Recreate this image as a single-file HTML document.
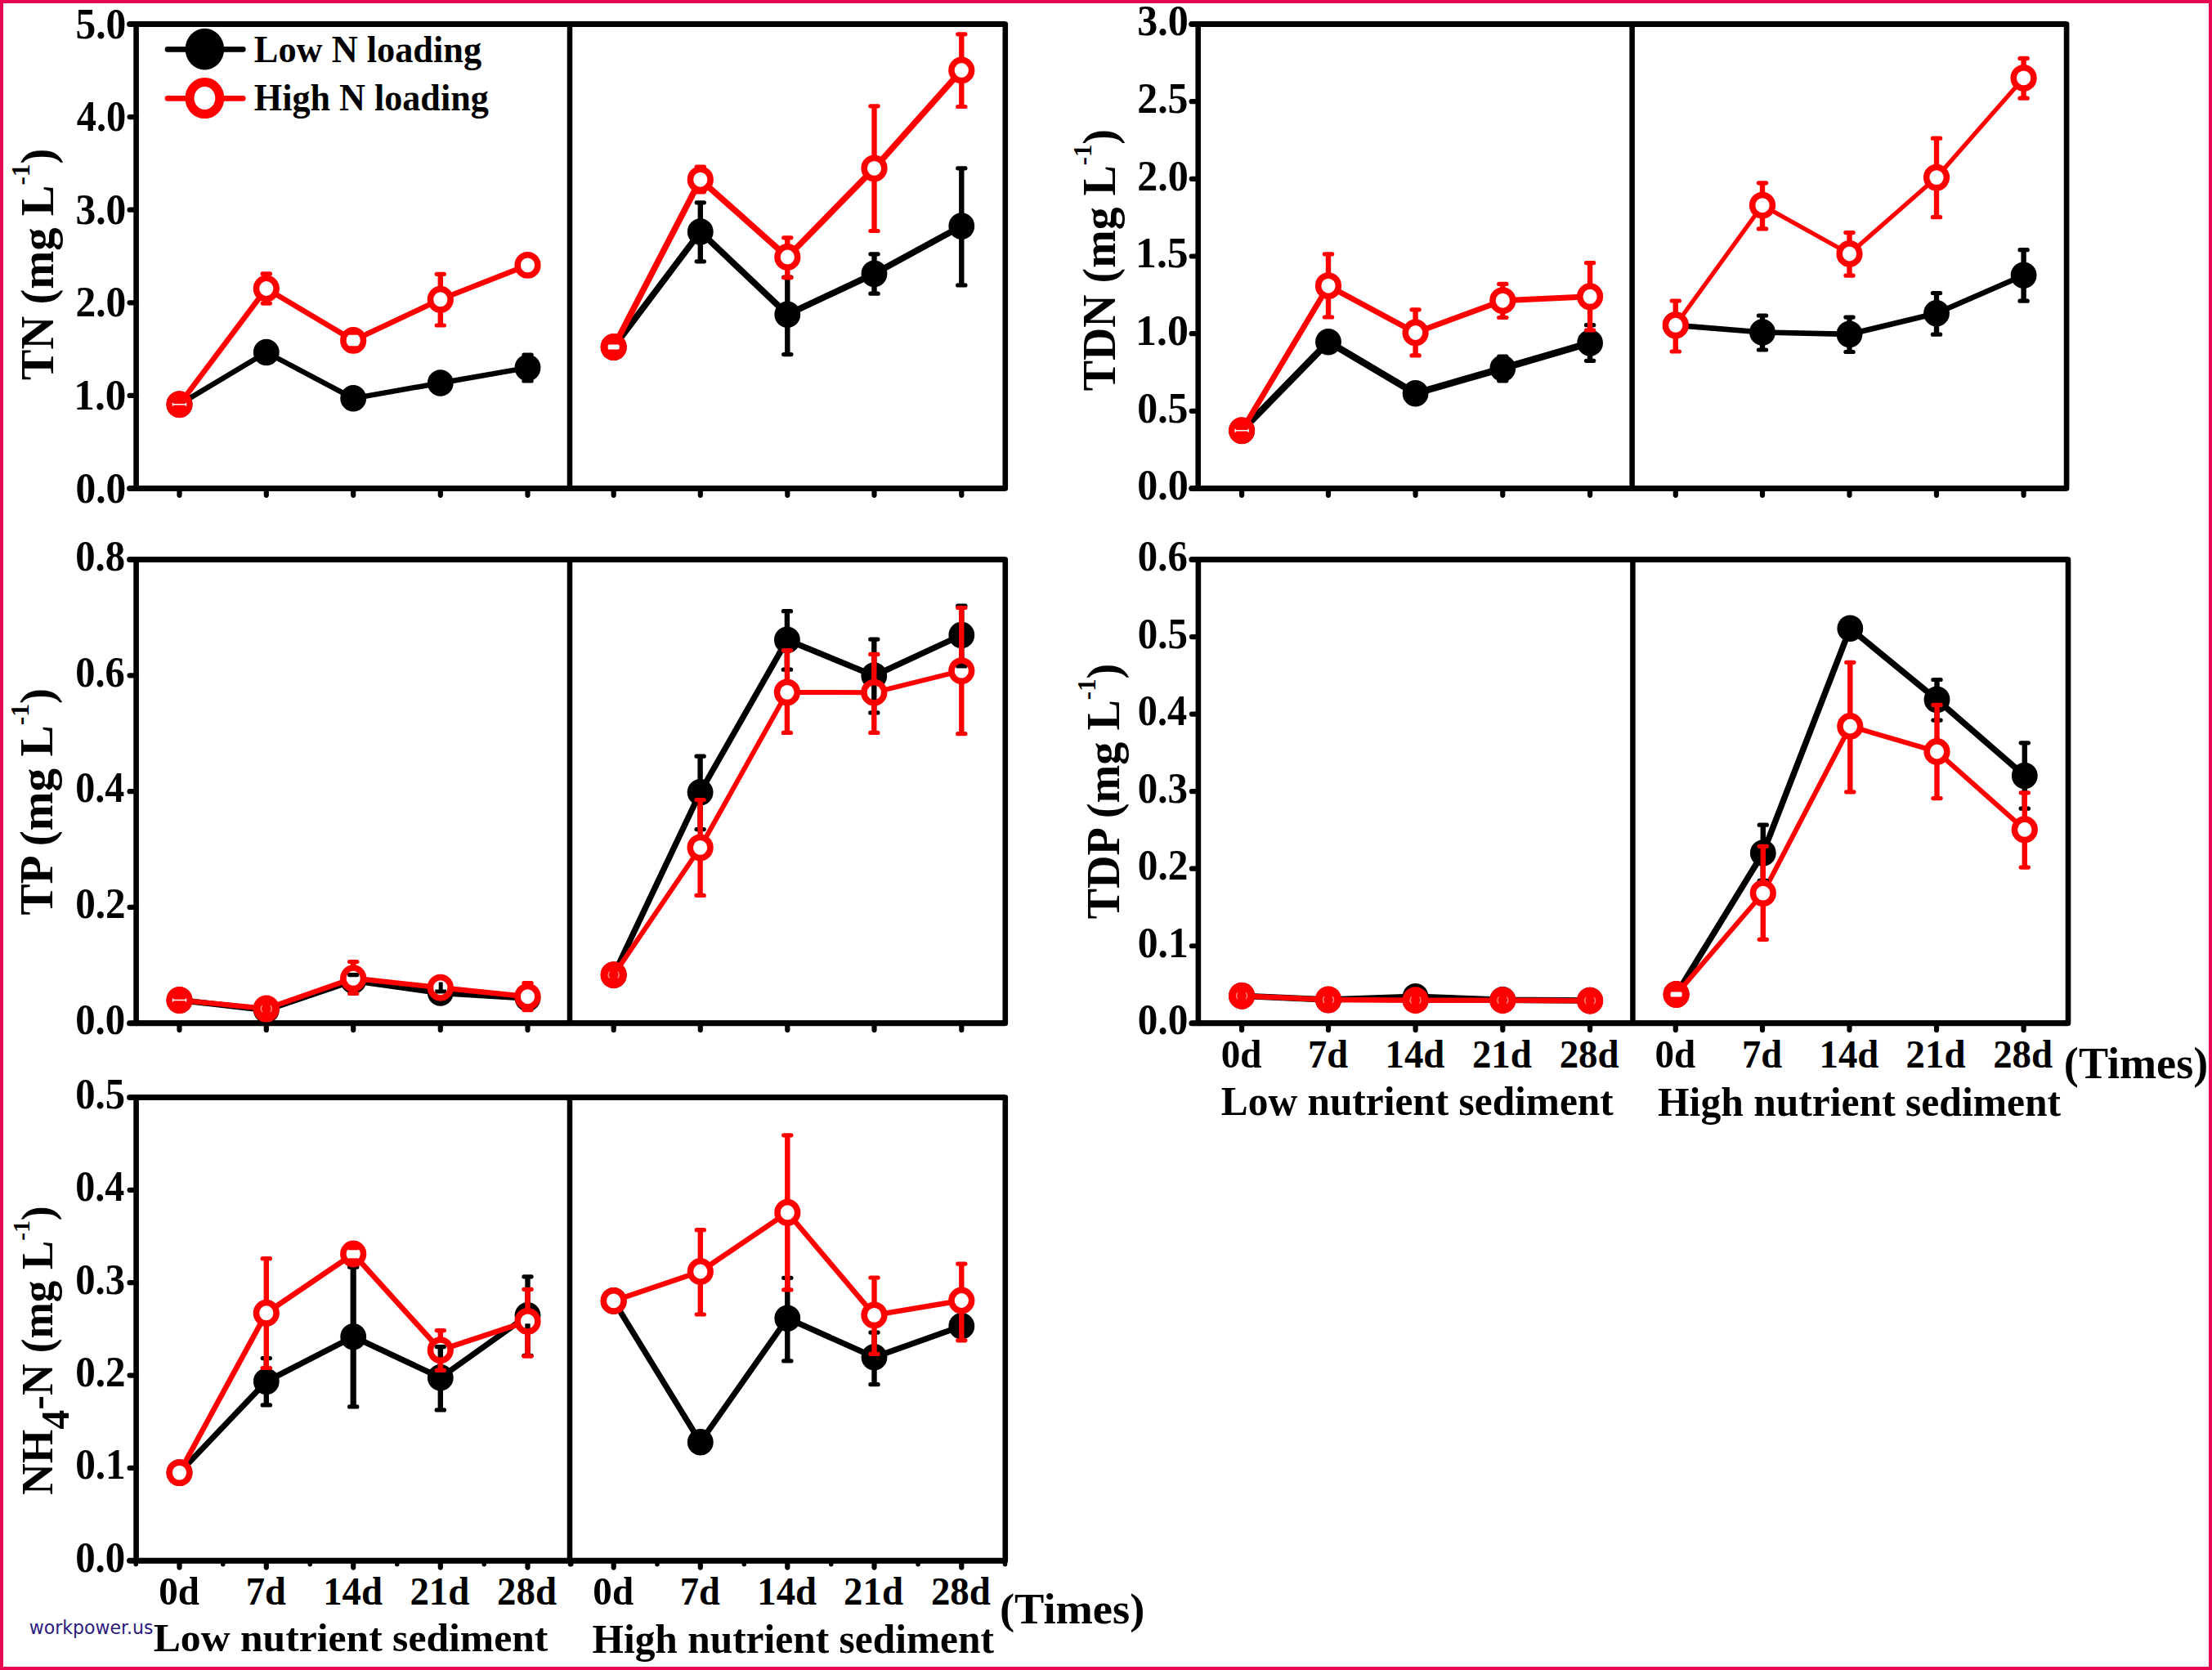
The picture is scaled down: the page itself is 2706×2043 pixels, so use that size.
<!DOCTYPE html>
<html lang="en"><head><meta charset="utf-8"><title>Nutrient concentrations</title>
<style>html,body{margin:0;padding:0;background:#fff}body{width:2706px;height:2043px;overflow:hidden}svg{display:block}</style>
</head><body>
<svg width="2706" height="2043" viewBox="0 0 2706 2043">
<rect x="0" y="0" width="2706" height="2043" fill="#fff"/>
<rect x="2" y="2" width="2702" height="2039" fill="none" stroke="#e80650" stroke-width="4"/>
<g stroke="#000" fill="none">
<rect x="166.6" y="29.5" width="1063.2" height="568" stroke-width="6.6" stroke-linejoin="round"/>
<path d="M166.6 29.5H1229.8M166.6 597.5H1229.8" stroke-width="7"/>
<line x1="697" y1="29.5" x2="697" y2="597.5" stroke-width="6.5"/>
</g>
<g stroke="#000" stroke-width="6.2" stroke-linecap="round">
<line x1="166.6" y1="597.5" x2="158.6" y2="597.5" stroke-width="7"/>
<line x1="166.6" y1="483.9" x2="158.6" y2="483.9"/>
<line x1="166.6" y1="370.3" x2="158.6" y2="370.3"/>
<line x1="166.6" y1="256.7" x2="158.6" y2="256.7"/>
<line x1="166.6" y1="143.1" x2="158.6" y2="143.1"/>
<line x1="166.6" y1="29.5" x2="158.6" y2="29.5" stroke-width="7"/>
<line x1="219.5" y1="597.5" x2="219.5" y2="605.8"/>
<line x1="325.8" y1="597.5" x2="325.8" y2="605.8"/>
<line x1="432.2" y1="597.5" x2="432.2" y2="605.8"/>
<line x1="538.8" y1="597.5" x2="538.8" y2="605.8"/>
<line x1="645.5" y1="597.5" x2="645.5" y2="605.8"/>
<line x1="750.7" y1="597.5" x2="750.7" y2="605.8"/>
<line x1="856.8" y1="597.5" x2="856.8" y2="605.8"/>
<line x1="963.3" y1="597.5" x2="963.3" y2="605.8"/>
<line x1="1069.5" y1="597.5" x2="1069.5" y2="605.8"/>
<line x1="1176.3" y1="597.5" x2="1176.3" y2="605.8"/>
</g>
<polyline points="219.5,494.7 325.8,431 432.2,487.3 538.8,468.5 645.5,449.9" fill="none" stroke="#000000" stroke-width="6.4" stroke-linejoin="round" stroke-linecap="round"/>
<ellipse cx="219.5" cy="494.7" rx="15.9" ry="16.3" fill="#000000"/>
<ellipse cx="325.8" cy="431" rx="15.9" ry="16.3" fill="#000000"/>
<ellipse cx="432.2" cy="487.3" rx="15.9" ry="16.3" fill="#000000"/>
<ellipse cx="538.8" cy="468.5" rx="15.9" ry="16.3" fill="#000000"/>
<ellipse cx="645.5" cy="449.9" rx="15.9" ry="16.3" fill="#000000"/>
<polyline points="219.5,494.7 325.8,353 432.2,416.4 538.8,366.3 645.5,324.4" fill="none" stroke="#ff0000" stroke-width="6.6" stroke-linejoin="round" stroke-linecap="round"/>
<ellipse cx="325.8" cy="353" rx="12.35" ry="12.7" fill="#fff"/>
<ellipse cx="432.2" cy="416.4" rx="12.35" ry="12.7" fill="#fff"/>
<ellipse cx="538.8" cy="366.3" rx="12.35" ry="12.7" fill="#fff"/>
<ellipse cx="645.5" cy="324.4" rx="12.35" ry="12.7" fill="#fff"/>
<g stroke="#000000" stroke-width="6.4" stroke-linecap="butt">
<line x1="645.5" y1="433.5" x2="645.5" y2="439.9"/>
<line x1="645.5" y1="459.9" x2="645.5" y2="466.5"/>
<line x1="640.9" y1="434.1" x2="650.1" y2="434.1" stroke-width="5.2" stroke-linecap="round"/>
<line x1="640.9" y1="465.9" x2="650.1" y2="465.9" stroke-width="5.2" stroke-linecap="round"/>
</g>
<g stroke="#ff0000" stroke-width="6.4" stroke-linecap="butt">
<line x1="325.8" y1="334.3" x2="325.8" y2="343"/>
<line x1="325.8" y1="363" x2="325.8" y2="371.7"/>
<line x1="321.2" y1="334.9" x2="330.4" y2="334.9" stroke-width="5.2" stroke-linecap="round"/>
<line x1="321.2" y1="371.1" x2="330.4" y2="371.1" stroke-width="5.2" stroke-linecap="round"/>
<line x1="432.2" y1="426.4" x2="432.2" y2="426.5"/>
<line x1="427.6" y1="407.1" x2="436.8" y2="407.1" stroke-width="5.2" stroke-linecap="round"/>
<line x1="427.6" y1="425.9" x2="436.8" y2="425.9" stroke-width="5.2" stroke-linecap="round"/>
<line x1="538.8" y1="334.7" x2="538.8" y2="356.3"/>
<line x1="538.8" y1="376.3" x2="538.8" y2="398.6"/>
<line x1="534.2" y1="335.3" x2="543.4" y2="335.3" stroke-width="5.2" stroke-linecap="round"/>
<line x1="534.2" y1="398" x2="543.4" y2="398" stroke-width="5.2" stroke-linecap="round"/>
</g>
<ellipse cx="219.5" cy="494.7" rx="16.1" ry="16.5" fill="#ff0000"/>
<path d="M211.5 492.7 v4 M227.5 492.7 v4 M211.5 494.7 h16" stroke="#fff" stroke-width="1.5" fill="none"/>
<ellipse cx="325.8" cy="353" rx="12.35" ry="12.7" fill="none" stroke="#ff0000" stroke-width="7.5"/>
<ellipse cx="432.2" cy="416.4" rx="12.35" ry="12.7" fill="none" stroke="#ff0000" stroke-width="7.5"/>
<ellipse cx="538.8" cy="366.3" rx="12.35" ry="12.7" fill="none" stroke="#ff0000" stroke-width="7.5"/>
<ellipse cx="645.5" cy="324.4" rx="12.35" ry="12.7" fill="none" stroke="#ff0000" stroke-width="7.5"/>
<polyline points="750.7,424.6 856.8,283.5 963.3,384.7 1069.5,334.9 1176.3,276.6" fill="none" stroke="#000000" stroke-width="7.8" stroke-linejoin="round" stroke-linecap="round"/>
<ellipse cx="750.7" cy="424.6" rx="15.9" ry="16.3" fill="#000000"/>
<ellipse cx="856.8" cy="283.5" rx="15.9" ry="16.3" fill="#000000"/>
<ellipse cx="963.3" cy="384.7" rx="15.9" ry="16.3" fill="#000000"/>
<ellipse cx="1069.5" cy="334.9" rx="15.9" ry="16.3" fill="#000000"/>
<ellipse cx="1176.3" cy="276.6" rx="15.9" ry="16.3" fill="#000000"/>
<polyline points="750.7,424.6 856.8,219.7 963.3,314.5 1069.5,205.9 1176.3,86" fill="none" stroke="#ff0000" stroke-width="7.5" stroke-linejoin="round" stroke-linecap="round"/>
<ellipse cx="856.8" cy="219.7" rx="12.35" ry="12.7" fill="#fff"/>
<ellipse cx="963.3" cy="314.5" rx="12.35" ry="12.7" fill="#fff"/>
<ellipse cx="1069.5" cy="205.9" rx="12.35" ry="12.7" fill="#fff"/>
<ellipse cx="1176.3" cy="86" rx="12.35" ry="12.7" fill="#fff"/>
<g stroke="#000000" stroke-width="6.4" stroke-linecap="butt">
<line x1="856.8" y1="247.2" x2="856.8" y2="273.5"/>
<line x1="856.8" y1="293.5" x2="856.8" y2="320.4"/>
<line x1="852.2" y1="247.8" x2="861.4" y2="247.8" stroke-width="5.2" stroke-linecap="round"/>
<line x1="852.2" y1="319.8" x2="861.4" y2="319.8" stroke-width="5.2" stroke-linecap="round"/>
<line x1="963.3" y1="338.5" x2="963.3" y2="374.7"/>
<line x1="963.3" y1="394.7" x2="963.3" y2="434.2"/>
<line x1="958.7" y1="339.1" x2="967.9" y2="339.1" stroke-width="5.2" stroke-linecap="round"/>
<line x1="958.7" y1="433.6" x2="967.9" y2="433.6" stroke-width="5.2" stroke-linecap="round"/>
<line x1="1069.5" y1="310.2" x2="1069.5" y2="324.9"/>
<line x1="1069.5" y1="344.9" x2="1069.5" y2="359.8"/>
<line x1="1064.9" y1="310.8" x2="1074.1" y2="310.8" stroke-width="5.2" stroke-linecap="round"/>
<line x1="1064.9" y1="359.2" x2="1074.1" y2="359.2" stroke-width="5.2" stroke-linecap="round"/>
<line x1="1176.3" y1="205.2" x2="1176.3" y2="266.6"/>
<line x1="1176.3" y1="286.6" x2="1176.3" y2="349.5"/>
<line x1="1171.7" y1="205.8" x2="1180.9" y2="205.8" stroke-width="5.2" stroke-linecap="round"/>
<line x1="1171.7" y1="348.9" x2="1180.9" y2="348.9" stroke-width="5.2" stroke-linecap="round"/>
</g>
<g stroke="#ff0000" stroke-width="6.4" stroke-linecap="butt">
<line x1="856.8" y1="203.4" x2="856.8" y2="209.7"/>
<line x1="856.8" y1="229.7" x2="856.8" y2="235.4"/>
<line x1="852.2" y1="204" x2="861.4" y2="204" stroke-width="5.2" stroke-linecap="round"/>
<line x1="852.2" y1="234.8" x2="861.4" y2="234.8" stroke-width="5.2" stroke-linecap="round"/>
<line x1="963.3" y1="290.2" x2="963.3" y2="304.5"/>
<line x1="963.3" y1="324.5" x2="963.3" y2="340.2"/>
<line x1="958.7" y1="290.8" x2="967.9" y2="290.8" stroke-width="5.2" stroke-linecap="round"/>
<line x1="958.7" y1="339.6" x2="967.9" y2="339.6" stroke-width="5.2" stroke-linecap="round"/>
<line x1="1069.5" y1="129.2" x2="1069.5" y2="195.9"/>
<line x1="1069.5" y1="215.9" x2="1069.5" y2="283.1"/>
<line x1="1064.9" y1="129.8" x2="1074.1" y2="129.8" stroke-width="5.2" stroke-linecap="round"/>
<line x1="1064.9" y1="282.5" x2="1074.1" y2="282.5" stroke-width="5.2" stroke-linecap="round"/>
<line x1="1176.3" y1="41.2" x2="1176.3" y2="76"/>
<line x1="1176.3" y1="96" x2="1176.3" y2="131.1"/>
<line x1="1171.7" y1="41.8" x2="1180.9" y2="41.8" stroke-width="5.2" stroke-linecap="round"/>
<line x1="1171.7" y1="130.5" x2="1180.9" y2="130.5" stroke-width="5.2" stroke-linecap="round"/>
</g>
<ellipse cx="750.7" cy="424.6" rx="16.1" ry="16.5" fill="#ff0000"/>
<rect x="743.7" y="421.6" width="14" height="6" rx="1.5" fill="#fff"/>
<ellipse cx="856.8" cy="219.7" rx="12.35" ry="12.7" fill="none" stroke="#ff0000" stroke-width="7.5"/>
<ellipse cx="963.3" cy="314.5" rx="12.35" ry="12.7" fill="none" stroke="#ff0000" stroke-width="7.5"/>
<ellipse cx="1069.5" cy="205.9" rx="12.35" ry="12.7" fill="none" stroke="#ff0000" stroke-width="7.5"/>
<ellipse cx="1176.3" cy="86" rx="12.35" ry="12.7" fill="none" stroke="#ff0000" stroke-width="7.5"/>
<text transform="translate(92.42 614.62) scale(0.9506 1.0000)" font-family='"Liberation Serif", serif' font-weight="bold" font-size="52.06" fill="#000">0.0</text>
<text transform="translate(90.3 501.02) scale(0.9842 1.0000)" font-family='"Liberation Serif", serif' font-weight="bold" font-size="52.06" fill="#000">1.0</text>
<text transform="translate(92.42 387.42) scale(0.9506 1.0000)" font-family='"Liberation Serif", serif' font-weight="bold" font-size="52.06" fill="#000">2.0</text>
<text transform="translate(92.42 273.82) scale(0.9506 1.0000)" font-family='"Liberation Serif", serif' font-weight="bold" font-size="52.06" fill="#000">3.0</text>
<text transform="translate(93.67 160.22) scale(0.9307 1.0000)" font-family='"Liberation Serif", serif' font-weight="bold" font-size="52.06" fill="#000">4.0</text>
<text transform="translate(92.42 46.62) scale(0.9506 1.0000)" font-family='"Liberation Serif", serif' font-weight="bold" font-size="52.06" fill="#000">5.0</text>
<text transform="translate(64.7 464.4) rotate(-90) scale(1.0097 1) translate(-0.84 0)" font-family='"Liberation Serif", serif' font-weight="bold" font-size="56" fill="#000"><tspan dy="0" font-size="56">TN (mg L</tspan><tspan dy="-29.12" font-size="30.8">-1</tspan><tspan dy="29.12" font-size="56">)</tspan></text>
<line x1="205" y1="60.4" x2="297.3" y2="60.4" stroke="#000" stroke-width="6.6" stroke-linecap="round"/>
<ellipse cx="250.4" cy="60.1" rx="23.8" ry="25.3" fill="#000"/>
<line x1="205" y1="120.4" x2="297.3" y2="120.4" stroke="#ff0000" stroke-width="6.6" stroke-linecap="round"/>
<ellipse cx="250.4" cy="120.1" rx="18.4" ry="19.5" fill="#fff" stroke="#ff0000" stroke-width="11"/>
<text transform="translate(310.84 75.9) scale(0.9369 1.0000)" font-family='"Liberation Serif", serif' font-weight="bold" font-size="47.3" fill="#000">Low N loading</text>
<text transform="translate(310.84 134.7) scale(0.9472 1.0000)" font-family='"Liberation Serif", serif' font-weight="bold" font-size="46.6" fill="#000">High N loading</text>
<g stroke="#000" fill="none">
<rect x="1465.7" y="29.5" width="1062.4" height="568" stroke-width="6.6" stroke-linejoin="round"/>
<path d="M1465.7 29.5H2528.1M1465.7 597.5H2528.1" stroke-width="7"/>
<line x1="1996.6" y1="29.5" x2="1996.6" y2="597.5" stroke-width="6.5"/>
</g>
<g stroke="#000" stroke-width="6.2" stroke-linecap="round">
<line x1="1465.7" y1="597.5" x2="1457.7" y2="597.5" stroke-width="7"/>
<line x1="1465.7" y1="502.83" x2="1457.7" y2="502.83"/>
<line x1="1465.7" y1="408.17" x2="1457.7" y2="408.17"/>
<line x1="1465.7" y1="313.5" x2="1457.7" y2="313.5"/>
<line x1="1465.7" y1="218.83" x2="1457.7" y2="218.83"/>
<line x1="1465.7" y1="124.17" x2="1457.7" y2="124.17"/>
<line x1="1465.7" y1="29.5" x2="1457.7" y2="29.5" stroke-width="7"/>
<line x1="1519.1" y1="597.5" x2="1519.1" y2="605.8"/>
<line x1="1625" y1="597.5" x2="1625" y2="605.8"/>
<line x1="1731.6" y1="597.5" x2="1731.6" y2="605.8"/>
<line x1="1838.3" y1="597.5" x2="1838.3" y2="605.8"/>
<line x1="1945.1" y1="597.5" x2="1945.1" y2="605.8"/>
<line x1="2049.8" y1="597.5" x2="2049.8" y2="605.8"/>
<line x1="2156" y1="597.5" x2="2156" y2="605.8"/>
<line x1="2262.5" y1="597.5" x2="2262.5" y2="605.8"/>
<line x1="2369" y1="597.5" x2="2369" y2="605.8"/>
<line x1="2475.6" y1="597.5" x2="2475.6" y2="605.8"/>
</g>
<polyline points="1519.1,526.8 1625,418.2 1731.6,481.3 1838.3,450.6 1945.1,419.5" fill="none" stroke="#000000" stroke-width="8.4" stroke-linejoin="round" stroke-linecap="round"/>
<ellipse cx="1519.1" cy="526.8" rx="15.9" ry="16.3" fill="#000000"/>
<ellipse cx="1625" cy="418.2" rx="15.9" ry="16.3" fill="#000000"/>
<ellipse cx="1731.6" cy="481.3" rx="15.9" ry="16.3" fill="#000000"/>
<ellipse cx="1838.3" cy="450.6" rx="15.9" ry="16.3" fill="#000000"/>
<ellipse cx="1945.1" cy="419.5" rx="15.9" ry="16.3" fill="#000000"/>
<polyline points="1519.1,526.8 1625,349.7 1731.6,407 1838.3,367.7 1945.1,362.8" fill="none" stroke="#ff0000" stroke-width="6.9" stroke-linejoin="round" stroke-linecap="round"/>
<ellipse cx="1625" cy="349.7" rx="12.35" ry="12.7" fill="#fff"/>
<ellipse cx="1731.6" cy="407" rx="12.35" ry="12.7" fill="#fff"/>
<ellipse cx="1838.3" cy="367.7" rx="12.35" ry="12.7" fill="#fff"/>
<ellipse cx="1945.1" cy="362.8" rx="12.35" ry="12.7" fill="#fff"/>
<g stroke="#000000" stroke-width="6.4" stroke-linecap="butt">
<line x1="1838.3" y1="435.6" x2="1838.3" y2="440.6"/>
<line x1="1838.3" y1="460.6" x2="1838.3" y2="466.4"/>
<line x1="1833.7" y1="436.2" x2="1842.9" y2="436.2" stroke-width="5.2" stroke-linecap="round"/>
<line x1="1833.7" y1="465.8" x2="1842.9" y2="465.8" stroke-width="5.2" stroke-linecap="round"/>
<line x1="1945.1" y1="397.1" x2="1945.1" y2="409.5"/>
<line x1="1945.1" y1="429.5" x2="1945.1" y2="441.9"/>
<line x1="1940.5" y1="397.7" x2="1949.7" y2="397.7" stroke-width="5.2" stroke-linecap="round"/>
<line x1="1940.5" y1="441.3" x2="1949.7" y2="441.3" stroke-width="5.2" stroke-linecap="round"/>
</g>
<g stroke="#ff0000" stroke-width="6.4" stroke-linecap="butt">
<line x1="1625" y1="310.2" x2="1625" y2="339.7"/>
<line x1="1625" y1="359.7" x2="1625" y2="388.6"/>
<line x1="1620.4" y1="310.8" x2="1629.6" y2="310.8" stroke-width="5.2" stroke-linecap="round"/>
<line x1="1620.4" y1="388" x2="1629.6" y2="388" stroke-width="5.2" stroke-linecap="round"/>
<line x1="1731.6" y1="378.2" x2="1731.6" y2="397"/>
<line x1="1731.6" y1="417" x2="1731.6" y2="435.5"/>
<line x1="1727" y1="378.8" x2="1736.2" y2="378.8" stroke-width="5.2" stroke-linecap="round"/>
<line x1="1727" y1="434.9" x2="1736.2" y2="434.9" stroke-width="5.2" stroke-linecap="round"/>
<line x1="1838.3" y1="346.8" x2="1838.3" y2="357.7"/>
<line x1="1838.3" y1="377.7" x2="1838.3" y2="389.1"/>
<line x1="1833.7" y1="347.4" x2="1842.9" y2="347.4" stroke-width="5.2" stroke-linecap="round"/>
<line x1="1833.7" y1="388.5" x2="1842.9" y2="388.5" stroke-width="5.2" stroke-linecap="round"/>
<line x1="1945.1" y1="321" x2="1945.1" y2="352.8"/>
<line x1="1945.1" y1="372.8" x2="1945.1" y2="404.6"/>
<line x1="1940.5" y1="321.6" x2="1949.7" y2="321.6" stroke-width="5.2" stroke-linecap="round"/>
<line x1="1940.5" y1="404" x2="1949.7" y2="404" stroke-width="5.2" stroke-linecap="round"/>
</g>
<ellipse cx="1519.1" cy="526.8" rx="16.1" ry="16.5" fill="#ff0000"/>
<path d="M1511.1 524.8 v4 M1527.1 524.8 v4 M1511.1 526.8 h16" stroke="#fff" stroke-width="1.5" fill="none"/>
<ellipse cx="1625" cy="349.7" rx="12.35" ry="12.7" fill="none" stroke="#ff0000" stroke-width="7.5"/>
<ellipse cx="1731.6" cy="407" rx="12.35" ry="12.7" fill="none" stroke="#ff0000" stroke-width="7.5"/>
<ellipse cx="1838.3" cy="367.7" rx="12.35" ry="12.7" fill="none" stroke="#ff0000" stroke-width="7.5"/>
<ellipse cx="1945.1" cy="362.8" rx="12.35" ry="12.7" fill="none" stroke="#ff0000" stroke-width="7.5"/>
<polyline points="2049.8,397.8 2156,406.5 2262.5,408.9 2369,383.2 2475.6,336.8" fill="none" stroke="#000000" stroke-width="6.7" stroke-linejoin="round" stroke-linecap="round"/>
<ellipse cx="2049.8" cy="397.8" rx="15.9" ry="16.3" fill="#000000"/>
<ellipse cx="2156" cy="406.5" rx="15.9" ry="16.3" fill="#000000"/>
<ellipse cx="2262.5" cy="408.9" rx="15.9" ry="16.3" fill="#000000"/>
<ellipse cx="2369" cy="383.2" rx="15.9" ry="16.3" fill="#000000"/>
<ellipse cx="2475.6" cy="336.8" rx="15.9" ry="16.3" fill="#000000"/>
<polyline points="2049.8,397.8 2156,251.2 2262.5,310.5 2369,217.1 2475.6,95.4" fill="none" stroke="#ff0000" stroke-width="5.3" stroke-linejoin="round" stroke-linecap="round"/>
<ellipse cx="2049.8" cy="397.8" rx="12.35" ry="12.7" fill="#fff"/>
<ellipse cx="2156" cy="251.2" rx="12.35" ry="12.7" fill="#fff"/>
<ellipse cx="2262.5" cy="310.5" rx="12.35" ry="12.7" fill="#fff"/>
<ellipse cx="2369" cy="217.1" rx="12.35" ry="12.7" fill="#fff"/>
<ellipse cx="2475.6" cy="95.4" rx="12.35" ry="12.7" fill="#fff"/>
<g stroke="#000000" stroke-width="6.4" stroke-linecap="butt">
<line x1="2156" y1="385.4" x2="2156" y2="396.5"/>
<line x1="2156" y1="416.5" x2="2156" y2="428.6"/>
<line x1="2151.4" y1="386" x2="2160.6" y2="386" stroke-width="5.2" stroke-linecap="round"/>
<line x1="2151.4" y1="428" x2="2160.6" y2="428" stroke-width="5.2" stroke-linecap="round"/>
<line x1="2262.5" y1="387.5" x2="2262.5" y2="398.9"/>
<line x1="2262.5" y1="418.9" x2="2262.5" y2="431.1"/>
<line x1="2257.9" y1="388.1" x2="2267.1" y2="388.1" stroke-width="5.2" stroke-linecap="round"/>
<line x1="2257.9" y1="430.5" x2="2267.1" y2="430.5" stroke-width="5.2" stroke-linecap="round"/>
<line x1="2369" y1="357.9" x2="2369" y2="373.2"/>
<line x1="2369" y1="393.2" x2="2369" y2="409.8"/>
<line x1="2364.4" y1="358.5" x2="2373.6" y2="358.5" stroke-width="5.2" stroke-linecap="round"/>
<line x1="2364.4" y1="409.2" x2="2373.6" y2="409.2" stroke-width="5.2" stroke-linecap="round"/>
<line x1="2475.6" y1="305.1" x2="2475.6" y2="326.8"/>
<line x1="2475.6" y1="346.8" x2="2475.6" y2="368.8"/>
<line x1="2471" y1="305.7" x2="2480.2" y2="305.7" stroke-width="5.2" stroke-linecap="round"/>
<line x1="2471" y1="368.2" x2="2480.2" y2="368.2" stroke-width="5.2" stroke-linecap="round"/>
</g>
<g stroke="#ff0000" stroke-width="6.4" stroke-linecap="butt">
<line x1="2049.8" y1="367.4" x2="2049.8" y2="387.8"/>
<line x1="2049.8" y1="407.8" x2="2049.8" y2="430.6"/>
<line x1="2045.2" y1="368" x2="2054.4" y2="368" stroke-width="5.2" stroke-linecap="round"/>
<line x1="2045.2" y1="430" x2="2054.4" y2="430" stroke-width="5.2" stroke-linecap="round"/>
<line x1="2156" y1="223.2" x2="2156" y2="241.2"/>
<line x1="2156" y1="261.2" x2="2156" y2="280.5"/>
<line x1="2151.4" y1="223.8" x2="2160.6" y2="223.8" stroke-width="5.2" stroke-linecap="round"/>
<line x1="2151.4" y1="279.9" x2="2160.6" y2="279.9" stroke-width="5.2" stroke-linecap="round"/>
<line x1="2262.5" y1="284" x2="2262.5" y2="300.5"/>
<line x1="2262.5" y1="320.5" x2="2262.5" y2="337.7"/>
<line x1="2257.9" y1="284.6" x2="2267.1" y2="284.6" stroke-width="5.2" stroke-linecap="round"/>
<line x1="2257.9" y1="337.1" x2="2267.1" y2="337.1" stroke-width="5.2" stroke-linecap="round"/>
<line x1="2369" y1="168.6" x2="2369" y2="207.1"/>
<line x1="2369" y1="227.1" x2="2369" y2="266.3"/>
<line x1="2364.4" y1="169.2" x2="2373.6" y2="169.2" stroke-width="5.2" stroke-linecap="round"/>
<line x1="2364.4" y1="265.7" x2="2373.6" y2="265.7" stroke-width="5.2" stroke-linecap="round"/>
<line x1="2475.6" y1="70.8" x2="2475.6" y2="85.4"/>
<line x1="2475.6" y1="105.4" x2="2475.6" y2="120.8"/>
<line x1="2471" y1="71.4" x2="2480.2" y2="71.4" stroke-width="5.2" stroke-linecap="round"/>
<line x1="2471" y1="120.2" x2="2480.2" y2="120.2" stroke-width="5.2" stroke-linecap="round"/>
</g>
<ellipse cx="2049.8" cy="397.8" rx="12.35" ry="12.7" fill="none" stroke="#ff0000" stroke-width="7.5"/>
<ellipse cx="2156" cy="251.2" rx="12.35" ry="12.7" fill="none" stroke="#ff0000" stroke-width="7.5"/>
<ellipse cx="2262.5" cy="310.5" rx="12.35" ry="12.7" fill="none" stroke="#ff0000" stroke-width="7.5"/>
<ellipse cx="2369" cy="217.1" rx="12.35" ry="12.7" fill="none" stroke="#ff0000" stroke-width="7.5"/>
<ellipse cx="2475.6" cy="95.4" rx="12.35" ry="12.7" fill="none" stroke="#ff0000" stroke-width="7.5"/>
<text transform="translate(1391.2 611.42) scale(0.9621 1.0000)" font-family='"Liberation Serif", serif' font-weight="bold" font-size="52.06" fill="#000">0.0</text>
<text transform="translate(1391.21 516.75) scale(0.9580 1.0000)" font-family='"Liberation Serif", serif' font-weight="bold" font-size="52.06" fill="#000">0.5</text>
<text transform="translate(1389.05 422.09) scale(0.9961 1.0000)" font-family='"Liberation Serif", serif' font-weight="bold" font-size="52.06" fill="#000">1.0</text>
<text transform="translate(1389.07 327.42) scale(0.9917 1.0000)" font-family='"Liberation Serif", serif' font-weight="bold" font-size="52.06" fill="#000">1.5</text>
<text transform="translate(1391.2 232.75) scale(0.9621 1.0000)" font-family='"Liberation Serif", serif' font-weight="bold" font-size="52.06" fill="#000">2.0</text>
<text transform="translate(1391.21 138.09) scale(0.9580 1.0000)" font-family='"Liberation Serif", serif' font-weight="bold" font-size="52.06" fill="#000">2.5</text>
<text transform="translate(1391.2 43.42) scale(0.9621 1.0000)" font-family='"Liberation Serif", serif' font-weight="bold" font-size="52.06" fill="#000">3.0</text>
<text transform="translate(1364 477.3) rotate(-90) scale(0.9876 1) translate(-0.85 0)" font-family='"Liberation Serif", serif' font-weight="bold" font-size="56.5" fill="#000"><tspan dy="0" font-size="56.5">TDN (mg L</tspan><tspan dy="-29.38" font-size="31.08">-1</tspan><tspan dy="29.38" font-size="56.5">)</tspan></text>
<g stroke="#000" fill="none">
<rect x="166.6" y="684.5" width="1063.2" height="567.3" stroke-width="6.6" stroke-linejoin="round"/>
<path d="M166.6 684.5H1229.8M166.6 1251.8H1229.8" stroke-width="7"/>
<line x1="697" y1="684.5" x2="697" y2="1251.8" stroke-width="6.5"/>
</g>
<g stroke="#000" stroke-width="6.2" stroke-linecap="round">
<line x1="166.6" y1="1251.8" x2="158.6" y2="1251.8" stroke-width="7"/>
<line x1="166.6" y1="1109.97" x2="158.6" y2="1109.97"/>
<line x1="166.6" y1="968.15" x2="158.6" y2="968.15"/>
<line x1="166.6" y1="826.33" x2="158.6" y2="826.33"/>
<line x1="166.6" y1="684.5" x2="158.6" y2="684.5" stroke-width="7"/>
<line x1="219.5" y1="1251.8" x2="219.5" y2="1260.1"/>
<line x1="325.8" y1="1251.8" x2="325.8" y2="1260.1"/>
<line x1="432.2" y1="1251.8" x2="432.2" y2="1260.1"/>
<line x1="538.8" y1="1251.8" x2="538.8" y2="1260.1"/>
<line x1="645.5" y1="1251.8" x2="645.5" y2="1260.1"/>
<line x1="750.7" y1="1251.8" x2="750.7" y2="1260.1"/>
<line x1="856.8" y1="1251.8" x2="856.8" y2="1260.1"/>
<line x1="963.3" y1="1251.8" x2="963.3" y2="1260.1"/>
<line x1="1069.5" y1="1251.8" x2="1069.5" y2="1260.1"/>
<line x1="1176.3" y1="1251.8" x2="1176.3" y2="1260.1"/>
</g>
<polyline points="219.5,1223.5 325.8,1235.5 432.2,1199.5 538.8,1214.5 645.5,1221" fill="none" stroke="#000000" stroke-width="7.4" stroke-linejoin="round" stroke-linecap="round"/>
<ellipse cx="219.5" cy="1223.5" rx="15.9" ry="16.3" fill="#000000"/>
<ellipse cx="325.8" cy="1235.5" rx="15.9" ry="16.3" fill="#000000"/>
<ellipse cx="432.2" cy="1199.5" rx="15.9" ry="16.3" fill="#000000"/>
<ellipse cx="538.8" cy="1214.5" rx="15.9" ry="16.3" fill="#000000"/>
<ellipse cx="645.5" cy="1221" rx="15.9" ry="16.3" fill="#000000"/>
<polyline points="219.5,1223.5 325.8,1234 432.2,1196.8 538.8,1208.2 645.5,1219.2" fill="none" stroke="#ff0000" stroke-width="6.4" stroke-linejoin="round" stroke-linecap="round"/>
<ellipse cx="432.2" cy="1196.8" rx="12.35" ry="12.7" fill="#fff"/>
<ellipse cx="538.8" cy="1208.2" rx="12.35" ry="12.7" fill="#fff"/>
<ellipse cx="645.5" cy="1219.2" rx="12.35" ry="12.7" fill="#fff"/>
<g stroke="#000000" stroke-width="6.4" stroke-linecap="butt">
<line x1="432.2" y1="1209.5" x2="432.2" y2="1211.5"/>
<line x1="427.6" y1="1192.6" x2="436.8" y2="1192.6" stroke-width="5.2" stroke-linecap="round"/>
<line x1="427.6" y1="1210.9" x2="436.8" y2="1210.9" stroke-width="5.2" stroke-linecap="round"/>
</g>
<path d="M539.2 1201.4V1212M532.3 1213H546" stroke="#000" stroke-width="5" fill="none"/>
<g stroke="#ff0000" stroke-width="6.4" stroke-linecap="butt">
<line x1="432.2" y1="1176" x2="432.2" y2="1186.8"/>
<line x1="432.2" y1="1206.8" x2="432.2" y2="1216"/>
<line x1="427.6" y1="1176.6" x2="436.8" y2="1176.6" stroke-width="5.2" stroke-linecap="round"/>
<line x1="427.6" y1="1215.4" x2="436.8" y2="1215.4" stroke-width="5.2" stroke-linecap="round"/>
<line x1="538.8" y1="1195" x2="538.8" y2="1198.2"/>
<line x1="538.8" y1="1218.2" x2="538.8" y2="1221.5"/>
<line x1="534.2" y1="1195.6" x2="543.4" y2="1195.6" stroke-width="5.2" stroke-linecap="round"/>
<line x1="534.2" y1="1220.9" x2="543.4" y2="1220.9" stroke-width="5.2" stroke-linecap="round"/>
<line x1="645.5" y1="1201.9" x2="645.5" y2="1209.2"/>
<line x1="645.5" y1="1229.2" x2="645.5" y2="1236.2"/>
<line x1="640.9" y1="1202.5" x2="650.1" y2="1202.5" stroke-width="5.2" stroke-linecap="round"/>
<line x1="640.9" y1="1235.6" x2="650.1" y2="1235.6" stroke-width="5.2" stroke-linecap="round"/>
</g>
<ellipse cx="219.5" cy="1223.5" rx="16.1" ry="16.5" fill="#ff0000"/>
<path d="M211.5 1221.5 v4 M227.5 1221.5 v4 M211.5 1223.5 h16" stroke="#fff" stroke-width="1.5" fill="none"/>
<ellipse cx="325.8" cy="1234" rx="16.1" ry="16.5" fill="#ff0000"/>
<path d="M320.8 1230 q-3 4 0 8 M330.8 1230 q3 4 0 8" stroke="#ff8a80" stroke-width="1.4" fill="none"/>
<ellipse cx="432.2" cy="1196.8" rx="12.35" ry="12.7" fill="none" stroke="#ff0000" stroke-width="7.5"/>
<ellipse cx="538.8" cy="1208.2" rx="12.35" ry="12.7" fill="none" stroke="#ff0000" stroke-width="7.5"/>
<ellipse cx="645.5" cy="1219.2" rx="12.35" ry="12.7" fill="none" stroke="#ff0000" stroke-width="7.5"/>
<polyline points="750.7,1192.7 856.6,969.3 962.9,782.9 1069.3,826.6 1176.3,777" fill="none" stroke="#000000" stroke-width="7.3" stroke-linejoin="round" stroke-linecap="round"/>
<ellipse cx="750.7" cy="1192.7" rx="15.9" ry="16.3" fill="#000000"/>
<ellipse cx="856.6" cy="969.3" rx="15.9" ry="16.3" fill="#000000"/>
<ellipse cx="962.9" cy="782.9" rx="15.9" ry="16.3" fill="#000000"/>
<ellipse cx="1069.3" cy="826.6" rx="15.9" ry="16.3" fill="#000000"/>
<ellipse cx="1176.3" cy="777" rx="15.9" ry="16.3" fill="#000000"/>
<polyline points="750.7,1192.7 856.6,1036.9 962.9,846.9 1069.3,847.2 1176.3,820.6" fill="none" stroke="#ff0000" stroke-width="6.0" stroke-linejoin="round" stroke-linecap="round"/>
<ellipse cx="856.6" cy="1036.9" rx="12.35" ry="12.7" fill="#fff"/>
<ellipse cx="962.9" cy="846.9" rx="12.35" ry="12.7" fill="#fff"/>
<ellipse cx="1069.3" cy="847.2" rx="12.35" ry="12.7" fill="#fff"/>
<ellipse cx="1176.3" cy="820.6" rx="12.35" ry="12.7" fill="#fff"/>
<g stroke="#000000" stroke-width="6.4" stroke-linecap="butt">
<line x1="856.6" y1="924.6" x2="856.6" y2="959.3"/>
<line x1="856.6" y1="979.3" x2="856.6" y2="1015.2"/>
<line x1="852" y1="925.2" x2="861.2" y2="925.2" stroke-width="5.2" stroke-linecap="round"/>
<line x1="852" y1="1014.6" x2="861.2" y2="1014.6" stroke-width="5.2" stroke-linecap="round"/>
<line x1="962.9" y1="747.1" x2="962.9" y2="772.9"/>
<line x1="962.9" y1="792.9" x2="962.9" y2="819.8"/>
<line x1="958.3" y1="747.7" x2="967.5" y2="747.7" stroke-width="5.2" stroke-linecap="round"/>
<line x1="958.3" y1="819.2" x2="967.5" y2="819.2" stroke-width="5.2" stroke-linecap="round"/>
<line x1="1069.3" y1="781.5" x2="1069.3" y2="816.6"/>
<line x1="1069.3" y1="836.6" x2="1069.3" y2="872.5"/>
<line x1="1064.7" y1="782.1" x2="1073.9" y2="782.1" stroke-width="5.2" stroke-linecap="round"/>
<line x1="1064.7" y1="871.9" x2="1073.9" y2="871.9" stroke-width="5.2" stroke-linecap="round"/>
<line x1="1176.3" y1="740.6" x2="1176.3" y2="767"/>
<line x1="1176.3" y1="787" x2="1176.3" y2="815.5"/>
<line x1="1171.7" y1="741.2" x2="1180.9" y2="741.2" stroke-width="5.2" stroke-linecap="round"/>
<line x1="1171.7" y1="814.9" x2="1180.9" y2="814.9" stroke-width="5.2" stroke-linecap="round"/>
</g>
<g stroke="#ff0000" stroke-width="6.4" stroke-linecap="butt">
<line x1="856.6" y1="977.9" x2="856.6" y2="1026.9"/>
<line x1="856.6" y1="1046.9" x2="856.6" y2="1096"/>
<line x1="852" y1="978.5" x2="861.2" y2="978.5" stroke-width="5.2" stroke-linecap="round"/>
<line x1="852" y1="1095.4" x2="861.2" y2="1095.4" stroke-width="5.2" stroke-linecap="round"/>
<line x1="962.9" y1="795" x2="962.9" y2="836.9"/>
<line x1="962.9" y1="856.9" x2="962.9" y2="897"/>
<line x1="958.3" y1="795.6" x2="967.5" y2="795.6" stroke-width="5.2" stroke-linecap="round"/>
<line x1="958.3" y1="896.4" x2="967.5" y2="896.4" stroke-width="5.2" stroke-linecap="round"/>
<line x1="1069.3" y1="799.8" x2="1069.3" y2="837.2"/>
<line x1="1069.3" y1="857.2" x2="1069.3" y2="897"/>
<line x1="1064.7" y1="800.4" x2="1073.9" y2="800.4" stroke-width="5.2" stroke-linecap="round"/>
<line x1="1064.7" y1="896.4" x2="1073.9" y2="896.4" stroke-width="5.2" stroke-linecap="round"/>
<line x1="1176.3" y1="742.9" x2="1176.3" y2="810.6"/>
<line x1="1176.3" y1="830.6" x2="1176.3" y2="898.3"/>
<line x1="1171.7" y1="743.5" x2="1180.9" y2="743.5" stroke-width="5.2" stroke-linecap="round"/>
<line x1="1171.7" y1="897.7" x2="1180.9" y2="897.7" stroke-width="5.2" stroke-linecap="round"/>
</g>
<ellipse cx="750.7" cy="1192.7" rx="16.1" ry="16.5" fill="#ff0000"/>
<path d="M745.7 1188.7 q-3 4 0 8 M755.7 1188.7 q3 4 0 8" stroke="#ff8a80" stroke-width="1.4" fill="none"/>
<ellipse cx="856.6" cy="1036.9" rx="12.35" ry="12.7" fill="none" stroke="#ff0000" stroke-width="7.5"/>
<ellipse cx="962.9" cy="846.9" rx="12.35" ry="12.7" fill="none" stroke="#ff0000" stroke-width="7.5"/>
<ellipse cx="1069.3" cy="847.2" rx="12.35" ry="12.7" fill="none" stroke="#ff0000" stroke-width="7.5"/>
<ellipse cx="1176.3" cy="820.6" rx="12.35" ry="12.7" fill="none" stroke="#ff0000" stroke-width="7.5"/>
<text transform="translate(92.14 1265.02) scale(0.9391 1.0000)" font-family='"Liberation Serif", serif' font-weight="bold" font-size="52.06" fill="#000">0.0</text>
<text transform="translate(92.14 1123.19) scale(0.9431 1.0000)" font-family='"Liberation Serif", serif' font-weight="bold" font-size="52.06" fill="#000">0.2</text>
<text transform="translate(92.18 981.37) scale(0.9233 1.0000)" font-family='"Liberation Serif", serif' font-weight="bold" font-size="52.06" fill="#000">0.4</text>
<text transform="translate(92.16 839.54) scale(0.9311 1.0000)" font-family='"Liberation Serif", serif' font-weight="bold" font-size="52.06" fill="#000">0.6</text>
<text transform="translate(92.15 697.72) scale(0.9351 1.0000)" font-family='"Liberation Serif", serif' font-weight="bold" font-size="52.06" fill="#000">0.8</text>
<text transform="translate(64.2 1119) rotate(-90) scale(1.0247 1) translate(-0.84 0)" font-family='"Liberation Serif", serif' font-weight="bold" font-size="56" fill="#000"><tspan dy="0" font-size="56">TP (mg L</tspan><tspan dy="-29.12" font-size="30.8">-1</tspan><tspan dy="29.12" font-size="56">)</tspan></text>
<g stroke="#000" fill="none">
<rect x="1465.9" y="684.5" width="1064.1" height="567.3" stroke-width="6.6" stroke-linejoin="round"/>
<path d="M1465.9 684.5H2530M1465.9 1251.8H2530" stroke-width="7"/>
<line x1="1997.4" y1="684.5" x2="1997.4" y2="1251.8" stroke-width="6.5"/>
</g>
<g stroke="#000" stroke-width="6.2" stroke-linecap="round">
<line x1="1465.9" y1="1251.8" x2="1457.9" y2="1251.8" stroke-width="7"/>
<line x1="1465.9" y1="1157.25" x2="1457.9" y2="1157.25"/>
<line x1="1465.9" y1="1062.7" x2="1457.9" y2="1062.7"/>
<line x1="1465.9" y1="968.15" x2="1457.9" y2="968.15"/>
<line x1="1465.9" y1="873.6" x2="1457.9" y2="873.6"/>
<line x1="1465.9" y1="779.05" x2="1457.9" y2="779.05"/>
<line x1="1465.9" y1="684.5" x2="1457.9" y2="684.5" stroke-width="7"/>
<line x1="1519.1" y1="1251.8" x2="1519.1" y2="1260.1"/>
<line x1="1625" y1="1251.8" x2="1625" y2="1260.1"/>
<line x1="1731.6" y1="1251.8" x2="1731.6" y2="1260.1"/>
<line x1="1838.3" y1="1251.8" x2="1838.3" y2="1260.1"/>
<line x1="1945.1" y1="1251.8" x2="1945.1" y2="1260.1"/>
<line x1="2049.8" y1="1251.8" x2="2049.8" y2="1260.1"/>
<line x1="2156" y1="1251.8" x2="2156" y2="1260.1"/>
<line x1="2262.5" y1="1251.8" x2="2262.5" y2="1260.1"/>
<line x1="2369" y1="1251.8" x2="2369" y2="1260.1"/>
<line x1="2475.6" y1="1251.8" x2="2475.6" y2="1260.1"/>
</g>
<polyline points="1519.1,1218.2 1625,1223 1731.6,1219.3 1838.3,1223.2 1945.1,1224" fill="none" stroke="#000000" stroke-width="7.4" stroke-linejoin="round" stroke-linecap="round"/>
<ellipse cx="1519.1" cy="1218.2" rx="15.9" ry="16.3" fill="#000000"/>
<ellipse cx="1625" cy="1223" rx="15.9" ry="16.3" fill="#000000"/>
<ellipse cx="1731.6" cy="1219.3" rx="15.9" ry="16.3" fill="#000000"/>
<ellipse cx="1838.3" cy="1223.2" rx="15.9" ry="16.3" fill="#000000"/>
<ellipse cx="1945.1" cy="1224" rx="15.9" ry="16.3" fill="#000000"/>
<polyline points="1519.1,1218.2 1625,1223 1731.6,1223.7 1838.3,1223.7 1945.1,1224.2" fill="none" stroke="#ff0000" stroke-width="6.4" stroke-linejoin="round" stroke-linecap="round"/>
<g stroke="#000000" stroke-width="6.4" stroke-linecap="butt">
</g>
<g stroke="#ff0000" stroke-width="6.4" stroke-linecap="butt">
</g>
<ellipse cx="1519.1" cy="1218.2" rx="16.1" ry="16.5" fill="#ff0000"/>
<path d="M1514.1 1214.2 q-3 4 0 8 M1524.1 1214.2 q3 4 0 8" stroke="#ff8a80" stroke-width="1.4" fill="none"/>
<ellipse cx="1625" cy="1223" rx="16.1" ry="16.5" fill="#ff0000"/>
<path d="M1620 1219 q-3 4 0 8 M1630 1219 q3 4 0 8" stroke="#ff8a80" stroke-width="1.4" fill="none"/>
<ellipse cx="1731.6" cy="1223.7" rx="16.1" ry="16.5" fill="#ff0000"/>
<path d="M1726.6 1219.7 q-3 4 0 8 M1736.6 1219.7 q3 4 0 8" stroke="#ff8a80" stroke-width="1.4" fill="none"/>
<ellipse cx="1838.3" cy="1223.7" rx="16.1" ry="16.5" fill="#ff0000"/>
<path d="M1833.3 1219.7 q-3 4 0 8 M1843.3 1219.7 q3 4 0 8" stroke="#ff8a80" stroke-width="1.4" fill="none"/>
<ellipse cx="1945.1" cy="1224.2" rx="16.1" ry="16.5" fill="#ff0000"/>
<path d="M1940.1 1220.2 q-3 4 0 8 M1950.1 1220.2 q3 4 0 8" stroke="#ff8a80" stroke-width="1.4" fill="none"/>
<polyline points="2050.6,1216.5 2156.8,1043.5 2263.3,768.7 2369.5,855.9 2476.8,949" fill="none" stroke="#000000" stroke-width="7.5" stroke-linejoin="round" stroke-linecap="round"/>
<ellipse cx="2050.6" cy="1216.5" rx="15.9" ry="16.3" fill="#000000"/>
<ellipse cx="2156.8" cy="1043.5" rx="15.9" ry="16.3" fill="#000000"/>
<ellipse cx="2263.3" cy="768.7" rx="15.9" ry="16.3" fill="#000000"/>
<ellipse cx="2369.5" cy="855.9" rx="15.9" ry="16.3" fill="#000000"/>
<ellipse cx="2476.8" cy="949" rx="15.9" ry="16.3" fill="#000000"/>
<polyline points="2050.6,1216.5 2156.8,1092.6 2263.3,888.5 2369.5,919.5 2476.8,1014.8" fill="none" stroke="#ff0000" stroke-width="6.0" stroke-linejoin="round" stroke-linecap="round"/>
<ellipse cx="2156.8" cy="1092.6" rx="12.35" ry="12.7" fill="#fff"/>
<ellipse cx="2263.3" cy="888.5" rx="12.35" ry="12.7" fill="#fff"/>
<ellipse cx="2369.5" cy="919.5" rx="12.35" ry="12.7" fill="#fff"/>
<ellipse cx="2476.8" cy="1014.8" rx="12.35" ry="12.7" fill="#fff"/>
<g stroke="#000000" stroke-width="6.4" stroke-linecap="butt">
<line x1="2156.8" y1="1008.6" x2="2156.8" y2="1033.5"/>
<line x1="2156.8" y1="1053.5" x2="2156.8" y2="1078"/>
<line x1="2152.2" y1="1009.2" x2="2161.4" y2="1009.2" stroke-width="5.2" stroke-linecap="round"/>
<line x1="2152.2" y1="1077.4" x2="2161.4" y2="1077.4" stroke-width="5.2" stroke-linecap="round"/>
<line x1="2369.5" y1="830.9" x2="2369.5" y2="845.9"/>
<line x1="2369.5" y1="865.9" x2="2369.5" y2="881.7"/>
<line x1="2364.9" y1="831.5" x2="2374.1" y2="831.5" stroke-width="5.2" stroke-linecap="round"/>
<line x1="2364.9" y1="881.1" x2="2374.1" y2="881.1" stroke-width="5.2" stroke-linecap="round"/>
<line x1="2476.8" y1="908.2" x2="2476.8" y2="939"/>
<line x1="2476.8" y1="959" x2="2476.8" y2="989.8"/>
<line x1="2472.2" y1="908.8" x2="2481.4" y2="908.8" stroke-width="5.2" stroke-linecap="round"/>
<line x1="2472.2" y1="989.2" x2="2481.4" y2="989.2" stroke-width="5.2" stroke-linecap="round"/>
</g>
<g stroke="#ff0000" stroke-width="6.4" stroke-linecap="butt">
<line x1="2156.8" y1="1034.7" x2="2156.8" y2="1082.6"/>
<line x1="2156.8" y1="1102.6" x2="2156.8" y2="1149.9"/>
<line x1="2152.2" y1="1035.3" x2="2161.4" y2="1035.3" stroke-width="5.2" stroke-linecap="round"/>
<line x1="2152.2" y1="1149.3" x2="2161.4" y2="1149.3" stroke-width="5.2" stroke-linecap="round"/>
<line x1="2263.3" y1="809.7" x2="2263.3" y2="878.5"/>
<line x1="2263.3" y1="898.5" x2="2263.3" y2="969.4"/>
<line x1="2258.7" y1="810.3" x2="2267.9" y2="810.3" stroke-width="5.2" stroke-linecap="round"/>
<line x1="2258.7" y1="968.8" x2="2267.9" y2="968.8" stroke-width="5.2" stroke-linecap="round"/>
<line x1="2369.5" y1="861.8" x2="2369.5" y2="909.5"/>
<line x1="2369.5" y1="929.5" x2="2369.5" y2="977.2"/>
<line x1="2364.9" y1="862.4" x2="2374.1" y2="862.4" stroke-width="5.2" stroke-linecap="round"/>
<line x1="2364.9" y1="976.6" x2="2374.1" y2="976.6" stroke-width="5.2" stroke-linecap="round"/>
<line x1="2476.8" y1="969.2" x2="2476.8" y2="1004.8"/>
<line x1="2476.8" y1="1024.8" x2="2476.8" y2="1061.7"/>
<line x1="2472.2" y1="969.8" x2="2481.4" y2="969.8" stroke-width="5.2" stroke-linecap="round"/>
<line x1="2472.2" y1="1061.1" x2="2481.4" y2="1061.1" stroke-width="5.2" stroke-linecap="round"/>
</g>
<ellipse cx="2050.6" cy="1216.5" rx="16.1" ry="16.5" fill="#ff0000"/>
<rect x="2043.6" y="1213.5" width="14" height="6" rx="1.5" fill="#fff"/>
<ellipse cx="2156.8" cy="1092.6" rx="12.35" ry="12.7" fill="none" stroke="#ff0000" stroke-width="7.5"/>
<ellipse cx="2263.3" cy="888.5" rx="12.35" ry="12.7" fill="none" stroke="#ff0000" stroke-width="7.5"/>
<ellipse cx="2369.5" cy="919.5" rx="12.35" ry="12.7" fill="none" stroke="#ff0000" stroke-width="7.5"/>
<ellipse cx="2476.8" cy="1014.8" rx="12.35" ry="12.7" fill="none" stroke="#ff0000" stroke-width="7.5"/>
<text transform="translate(1391.83 1265.42) scale(0.9440 1.0000)" font-family='"Liberation Serif", serif' font-weight="bold" font-size="52.06" fill="#000">0.0</text>
<text transform="translate(1391.82 1170.87) scale(0.9522 1.0000)" font-family='"Liberation Serif", serif' font-weight="bold" font-size="52.06" fill="#000">0.1</text>
<text transform="translate(1391.83 1076.32) scale(0.9481 1.0000)" font-family='"Liberation Serif", serif' font-weight="bold" font-size="52.06" fill="#000">0.2</text>
<text transform="translate(1391.84 981.77) scale(0.9400 1.0000)" font-family='"Liberation Serif", serif' font-weight="bold" font-size="52.06" fill="#000">0.3</text>
<text transform="translate(1391.87 887.22) scale(0.9281 1.0000)" font-family='"Liberation Serif", serif' font-weight="bold" font-size="52.06" fill="#000">0.4</text>
<text transform="translate(1391.84 792.67) scale(0.9400 1.0000)" font-family='"Liberation Serif", serif' font-weight="bold" font-size="52.06" fill="#000">0.5</text>
<text transform="translate(1391.85 698.12) scale(0.9360 1.0000)" font-family='"Liberation Serif", serif' font-weight="bold" font-size="52.06" fill="#000">0.6</text>
<text transform="translate(1369 1123.7) rotate(-90) scale(1.0035 1) translate(-0.84 0)" font-family='"Liberation Serif", serif' font-weight="bold" font-size="56" fill="#000"><tspan dy="0" font-size="56">TDP (mg L</tspan><tspan dy="-29.12" font-size="30.8">-1</tspan><tspan dy="29.12" font-size="56">)</tspan></text>
<text transform="translate(1493.77 1305.6) scale(0.9605 1.0000)" font-family='"Liberation Serif", serif' font-weight="bold" font-size="49" fill="#000">0d</text>
<text transform="translate(1599.94 1305.6) scale(0.9483 1.0000)" font-family='"Liberation Serif", serif' font-weight="bold" font-size="49" fill="#000">7d</text>
<text transform="translate(1694.61 1305.6) scale(0.9542 1.0000)" font-family='"Liberation Serif", serif' font-weight="bold" font-size="49" fill="#000">14d</text>
<text transform="translate(1800.88 1305.6) scale(0.9560 1.0000)" font-family='"Liberation Serif", serif' font-weight="bold" font-size="49" fill="#000">21d</text>
<text transform="translate(1907.68 1305.6) scale(0.9560 1.0000)" font-family='"Liberation Serif", serif' font-weight="bold" font-size="49" fill="#000">28d</text>
<text transform="translate(2024.47 1305.6) scale(0.9605 1.0000)" font-family='"Liberation Serif", serif' font-weight="bold" font-size="49" fill="#000">0d</text>
<text transform="translate(2130.94 1305.6) scale(0.9483 1.0000)" font-family='"Liberation Serif", serif' font-weight="bold" font-size="49" fill="#000">7d</text>
<text transform="translate(2225.51 1305.6) scale(0.9542 1.0000)" font-family='"Liberation Serif", serif' font-weight="bold" font-size="49" fill="#000">14d</text>
<text transform="translate(2331.58 1305.6) scale(0.9560 1.0000)" font-family='"Liberation Serif", serif' font-weight="bold" font-size="49" fill="#000">21d</text>
<text transform="translate(2438.18 1305.6) scale(0.9560 1.0000)" font-family='"Liberation Serif", serif' font-weight="bold" font-size="49" fill="#000">28d</text>
<text transform="translate(2524.86 1319.3) scale(0.9951 1.0000)" font-family='"Liberation Serif", serif' font-weight="bold" font-size="54.4" fill="#000">(Times)</text>
<text transform="translate(1493.86 1363.9) scale(0.9567 1.0000)" font-family='"Liberation Serif", serif' font-weight="bold" font-size="51.6" fill="#000">Low nutrient sediment</text>
<text transform="translate(2028.06 1364.6) scale(0.9741 1.0000)" font-family='"Liberation Serif", serif' font-weight="bold" font-size="50.9" fill="#000">High nutrient sediment</text>
<g stroke="#000" fill="none">
<rect x="166.6" y="1342.5" width="1063.2" height="566.8" stroke-width="6.6" stroke-linejoin="round"/>
<path d="M166.6 1342.5H1229.8M166.6 1909.3H1229.8" stroke-width="7"/>
<line x1="697" y1="1342.5" x2="697" y2="1909.3" stroke-width="6.5"/>
</g>
<g stroke="#000" stroke-width="6.2" stroke-linecap="round">
<line x1="166.6" y1="1909.3" x2="158.6" y2="1909.3" stroke-width="7"/>
<line x1="166.6" y1="1795.94" x2="158.6" y2="1795.94"/>
<line x1="166.6" y1="1682.58" x2="158.6" y2="1682.58"/>
<line x1="166.6" y1="1569.22" x2="158.6" y2="1569.22"/>
<line x1="166.6" y1="1455.86" x2="158.6" y2="1455.86"/>
<line x1="166.6" y1="1342.5" x2="158.6" y2="1342.5" stroke-width="7"/>
<line x1="219.5" y1="1909.3" x2="219.5" y2="1917.6"/>
<line x1="325.8" y1="1909.3" x2="325.8" y2="1917.6"/>
<line x1="432.2" y1="1909.3" x2="432.2" y2="1917.6"/>
<line x1="538.8" y1="1909.3" x2="538.8" y2="1917.6"/>
<line x1="645.5" y1="1909.3" x2="645.5" y2="1917.6"/>
<line x1="750.7" y1="1909.3" x2="750.7" y2="1917.6"/>
<line x1="856.8" y1="1909.3" x2="856.8" y2="1917.6"/>
<line x1="963.3" y1="1909.3" x2="963.3" y2="1917.6"/>
<line x1="1069.5" y1="1909.3" x2="1069.5" y2="1917.6"/>
<line x1="1176.3" y1="1909.3" x2="1176.3" y2="1917.6"/>
<line x1="166.25" y1="1909.3" x2="166.25" y2="1913.8" stroke-width="5.5"/>
<line x1="272.75" y1="1909.3" x2="272.75" y2="1913.8" stroke-width="5.5"/>
<line x1="379.25" y1="1909.3" x2="379.25" y2="1913.8" stroke-width="5.5"/>
<line x1="485.75" y1="1909.3" x2="485.75" y2="1913.8" stroke-width="5.5"/>
<line x1="592.25" y1="1909.3" x2="592.25" y2="1913.8" stroke-width="5.5"/>
<line x1="698.75" y1="1909.3" x2="698.75" y2="1913.8" stroke-width="5.5"/>
<line x1="697.5" y1="1909.3" x2="697.5" y2="1913.8" stroke-width="5.5"/>
<line x1="803.9" y1="1909.3" x2="803.9" y2="1913.8" stroke-width="5.5"/>
<line x1="910.3" y1="1909.3" x2="910.3" y2="1913.8" stroke-width="5.5"/>
<line x1="1016.7" y1="1909.3" x2="1016.7" y2="1913.8" stroke-width="5.5"/>
<line x1="1123.1" y1="1909.3" x2="1123.1" y2="1913.8" stroke-width="5.5"/>
<line x1="1229.5" y1="1909.3" x2="1229.5" y2="1913.8" stroke-width="5.5"/>
</g>
<polyline points="219.5,1801.6 325.8,1690 432.2,1635.3 538.8,1685.3 645.5,1609.3" fill="none" stroke="#000000" stroke-width="7.1" stroke-linejoin="round" stroke-linecap="round"/>
<ellipse cx="219.5" cy="1801.6" rx="15.9" ry="16.3" fill="#000000"/>
<ellipse cx="325.8" cy="1690" rx="15.9" ry="16.3" fill="#000000"/>
<ellipse cx="432.2" cy="1635.3" rx="15.9" ry="16.3" fill="#000000"/>
<ellipse cx="538.8" cy="1685.3" rx="15.9" ry="16.3" fill="#000000"/>
<ellipse cx="645.5" cy="1609.3" rx="15.9" ry="16.3" fill="#000000"/>
<polyline points="219.5,1801.6 325.8,1606.3 432.2,1534 538.8,1651.6 645.5,1616.4" fill="none" stroke="#ff0000" stroke-width="6.6" stroke-linejoin="round" stroke-linecap="round"/>
<ellipse cx="219.5" cy="1801.6" rx="12.35" ry="12.7" fill="#fff"/>
<ellipse cx="325.8" cy="1606.3" rx="12.35" ry="12.7" fill="#fff"/>
<ellipse cx="432.2" cy="1534" rx="12.35" ry="12.7" fill="#fff"/>
<ellipse cx="538.8" cy="1651.6" rx="12.35" ry="12.7" fill="#fff"/>
<ellipse cx="645.5" cy="1616.4" rx="12.35" ry="12.7" fill="#fff"/>
<g stroke="#000000" stroke-width="6.4" stroke-linecap="butt">
<line x1="325.8" y1="1661" x2="325.8" y2="1680"/>
<line x1="325.8" y1="1700" x2="325.8" y2="1719.5"/>
<line x1="321.2" y1="1661.6" x2="330.4" y2="1661.6" stroke-width="5.2" stroke-linecap="round"/>
<line x1="321.2" y1="1718.9" x2="330.4" y2="1718.9" stroke-width="5.2" stroke-linecap="round"/>
<line x1="432.2" y1="1549.5" x2="432.2" y2="1625.3" stroke-width="7.2"/>
<line x1="432.2" y1="1645.3" x2="432.2" y2="1721.5" stroke-width="7.2"/>
<line x1="427.6" y1="1550.1" x2="436.8" y2="1550.1" stroke-width="5.2" stroke-linecap="round"/>
<line x1="427.6" y1="1720.9" x2="436.8" y2="1720.9" stroke-width="5.2" stroke-linecap="round"/>
<line x1="538.8" y1="1647" x2="538.8" y2="1675.3"/>
<line x1="538.8" y1="1695.3" x2="538.8" y2="1725.5"/>
<line x1="534.2" y1="1647.6" x2="543.4" y2="1647.6" stroke-width="5.2" stroke-linecap="round"/>
<line x1="534.2" y1="1724.9" x2="543.4" y2="1724.9" stroke-width="5.2" stroke-linecap="round"/>
<line x1="645.5" y1="1561.2" x2="645.5" y2="1599.3"/>
<line x1="645.5" y1="1619.3" x2="645.5" y2="1659"/>
<line x1="640.9" y1="1561.8" x2="650.1" y2="1561.8" stroke-width="5.2" stroke-linecap="round"/>
<line x1="640.9" y1="1658.4" x2="650.1" y2="1658.4" stroke-width="5.2" stroke-linecap="round"/>
</g>
<g stroke="#ff0000" stroke-width="6.4" stroke-linecap="butt">
<line x1="325.8" y1="1539.1" x2="325.8" y2="1596.3"/>
<line x1="325.8" y1="1616.3" x2="325.8" y2="1674.1"/>
<line x1="321.2" y1="1539.7" x2="330.4" y2="1539.7" stroke-width="5.2" stroke-linecap="round"/>
<line x1="321.2" y1="1673.5" x2="330.4" y2="1673.5" stroke-width="5.2" stroke-linecap="round"/>
<line x1="427.6" y1="1526.6" x2="436.8" y2="1526.6" stroke-width="5.2" stroke-linecap="round"/>
<line x1="427.6" y1="1541.9" x2="436.8" y2="1541.9" stroke-width="5.2" stroke-linecap="round"/>
<line x1="538.8" y1="1627" x2="538.8" y2="1641.6"/>
<line x1="538.8" y1="1661.6" x2="538.8" y2="1677"/>
<line x1="534.2" y1="1627.6" x2="543.4" y2="1627.6" stroke-width="5.2" stroke-linecap="round"/>
<line x1="534.2" y1="1676.4" x2="543.4" y2="1676.4" stroke-width="5.2" stroke-linecap="round"/>
<line x1="645.5" y1="1576.7" x2="645.5" y2="1606.4"/>
<line x1="645.5" y1="1626.4" x2="645.5" y2="1659.7"/>
<line x1="640.9" y1="1577.3" x2="650.1" y2="1577.3" stroke-width="5.2" stroke-linecap="round"/>
<line x1="640.9" y1="1659.1" x2="650.1" y2="1659.1" stroke-width="5.2" stroke-linecap="round"/>
</g>
<ellipse cx="219.5" cy="1801.6" rx="12.35" ry="12.7" fill="none" stroke="#ff0000" stroke-width="7.5"/>
<ellipse cx="325.8" cy="1606.3" rx="12.35" ry="12.7" fill="none" stroke="#ff0000" stroke-width="7.5"/>
<ellipse cx="432.2" cy="1534" rx="12.35" ry="12.7" fill="none" stroke="#ff0000" stroke-width="7.5"/>
<ellipse cx="538.8" cy="1651.6" rx="12.35" ry="12.7" fill="none" stroke="#ff0000" stroke-width="7.5"/>
<ellipse cx="645.5" cy="1616.4" rx="12.35" ry="12.7" fill="none" stroke="#ff0000" stroke-width="7.5"/>
<polyline points="750.7,1591.4 856.8,1764.3 963.3,1612.8 1069.5,1660.3 1176.3,1622.3" fill="none" stroke="#000000" stroke-width="7.2" stroke-linejoin="round" stroke-linecap="round"/>
<ellipse cx="750.7" cy="1591.4" rx="15.9" ry="16.3" fill="#000000"/>
<ellipse cx="856.8" cy="1764.3" rx="15.9" ry="16.3" fill="#000000"/>
<ellipse cx="963.3" cy="1612.8" rx="15.9" ry="16.3" fill="#000000"/>
<ellipse cx="1069.5" cy="1660.3" rx="15.9" ry="16.3" fill="#000000"/>
<ellipse cx="1176.3" cy="1622.3" rx="15.9" ry="16.3" fill="#000000"/>
<polyline points="750.7,1591.4 856.8,1555.5 963.3,1483.3 1069.5,1608.9 1176.3,1591" fill="none" stroke="#ff0000" stroke-width="6.4" stroke-linejoin="round" stroke-linecap="round"/>
<ellipse cx="750.7" cy="1591.4" rx="12.35" ry="12.7" fill="#fff"/>
<ellipse cx="856.8" cy="1555.5" rx="12.35" ry="12.7" fill="#fff"/>
<ellipse cx="963.3" cy="1483.3" rx="12.35" ry="12.7" fill="#fff"/>
<ellipse cx="1069.5" cy="1608.9" rx="12.35" ry="12.7" fill="#fff"/>
<ellipse cx="1176.3" cy="1591" rx="12.35" ry="12.7" fill="#fff"/>
<g stroke="#000000" stroke-width="6.4" stroke-linecap="butt">
<line x1="963.3" y1="1562.7" x2="963.3" y2="1602.8"/>
<line x1="963.3" y1="1622.8" x2="963.3" y2="1665.5"/>
<line x1="958.7" y1="1563.3" x2="967.9" y2="1563.3" stroke-width="5.2" stroke-linecap="round"/>
<line x1="958.7" y1="1664.9" x2="967.9" y2="1664.9" stroke-width="5.2" stroke-linecap="round"/>
<line x1="1069.5" y1="1629.5" x2="1069.5" y2="1650.3"/>
<line x1="1069.5" y1="1670.3" x2="1069.5" y2="1694.3"/>
<line x1="1064.9" y1="1630.1" x2="1074.1" y2="1630.1" stroke-width="5.2" stroke-linecap="round"/>
<line x1="1064.9" y1="1693.7" x2="1074.1" y2="1693.7" stroke-width="5.2" stroke-linecap="round"/>
</g>
<g stroke="#ff0000" stroke-width="6.4" stroke-linecap="butt">
<line x1="856.8" y1="1504.1" x2="856.8" y2="1545.5"/>
<line x1="856.8" y1="1565.5" x2="856.8" y2="1608.6"/>
<line x1="852.2" y1="1504.7" x2="861.4" y2="1504.7" stroke-width="5.2" stroke-linecap="round"/>
<line x1="852.2" y1="1608" x2="861.4" y2="1608" stroke-width="5.2" stroke-linecap="round"/>
<line x1="963.3" y1="1388.2" x2="963.3" y2="1473.3"/>
<line x1="963.3" y1="1493.3" x2="963.3" y2="1578.5"/>
<line x1="958.7" y1="1388.8" x2="967.9" y2="1388.8" stroke-width="5.2" stroke-linecap="round"/>
<line x1="958.7" y1="1577.9" x2="967.9" y2="1577.9" stroke-width="5.2" stroke-linecap="round"/>
<line x1="1069.5" y1="1562.4" x2="1069.5" y2="1598.9"/>
<line x1="1069.5" y1="1618.9" x2="1069.5" y2="1657"/>
<line x1="1064.9" y1="1563" x2="1074.1" y2="1563" stroke-width="5.2" stroke-linecap="round"/>
<line x1="1064.9" y1="1656.4" x2="1074.1" y2="1656.4" stroke-width="5.2" stroke-linecap="round"/>
<line x1="1176.3" y1="1545.5" x2="1176.3" y2="1581"/>
<line x1="1176.3" y1="1601" x2="1176.3" y2="1640.4"/>
<line x1="1171.7" y1="1546.1" x2="1180.9" y2="1546.1" stroke-width="5.2" stroke-linecap="round"/>
<line x1="1171.7" y1="1639.8" x2="1180.9" y2="1639.8" stroke-width="5.2" stroke-linecap="round"/>
</g>
<ellipse cx="750.7" cy="1591.4" rx="12.35" ry="12.7" fill="none" stroke="#ff0000" stroke-width="7.5"/>
<ellipse cx="856.8" cy="1555.5" rx="12.35" ry="12.7" fill="none" stroke="#ff0000" stroke-width="7.5"/>
<ellipse cx="963.3" cy="1483.3" rx="12.35" ry="12.7" fill="none" stroke="#ff0000" stroke-width="7.5"/>
<ellipse cx="1069.5" cy="1608.9" rx="12.35" ry="12.7" fill="none" stroke="#ff0000" stroke-width="7.5"/>
<ellipse cx="1176.3" cy="1591" rx="12.35" ry="12.7" fill="none" stroke="#ff0000" stroke-width="7.5"/>
<text transform="translate(92.14 1922.82) scale(0.9391 1.0000)" font-family='"Liberation Serif", serif' font-weight="bold" font-size="52.06" fill="#000">0.0</text>
<text transform="translate(92.13 1809.46) scale(0.9472 1.0000)" font-family='"Liberation Serif", serif' font-weight="bold" font-size="52.06" fill="#000">0.1</text>
<text transform="translate(92.14 1696.1) scale(0.9431 1.0000)" font-family='"Liberation Serif", serif' font-weight="bold" font-size="52.06" fill="#000">0.2</text>
<text transform="translate(92.15 1582.74) scale(0.9351 1.0000)" font-family='"Liberation Serif", serif' font-weight="bold" font-size="52.06" fill="#000">0.3</text>
<text transform="translate(92.18 1469.38) scale(0.9233 1.0000)" font-family='"Liberation Serif", serif' font-weight="bold" font-size="52.06" fill="#000">0.4</text>
<text transform="translate(92.15 1356.02) scale(0.9351 1.0000)" font-family='"Liberation Serif", serif' font-weight="bold" font-size="52.06" fill="#000">0.5</text>
<text transform="translate(63.9 1827.7) rotate(-90) scale(0.9870 1) translate(-1.08 0)" font-family='"Liberation Serif", serif' font-weight="bold" font-size="54" fill="#000"><tspan dy="0" font-size="54">NH</tspan><tspan dy="19.98" font-size="48.6">4</tspan><tspan dy="-19.98" font-size="54">-N (mg L</tspan><tspan dy="-28.08" font-size="29.7">-1</tspan><tspan dy="28.08" font-size="54">)</tspan></text>
<text transform="translate(194.17 1962.6) scale(0.9605 1.0000)" font-family='"Liberation Serif", serif' font-weight="bold" font-size="49" fill="#000">0d</text>
<text transform="translate(300.74 1962.6) scale(0.9483 1.0000)" font-family='"Liberation Serif", serif' font-weight="bold" font-size="49" fill="#000">7d</text>
<text transform="translate(395.21 1962.6) scale(0.9542 1.0000)" font-family='"Liberation Serif", serif' font-weight="bold" font-size="49" fill="#000">14d</text>
<text transform="translate(501.38 1962.6) scale(0.9560 1.0000)" font-family='"Liberation Serif", serif' font-weight="bold" font-size="49" fill="#000">21d</text>
<text transform="translate(608.08 1962.6) scale(0.9560 1.0000)" font-family='"Liberation Serif", serif' font-weight="bold" font-size="49" fill="#000">28d</text>
<text transform="translate(725.37 1962.6) scale(0.9605 1.0000)" font-family='"Liberation Serif", serif' font-weight="bold" font-size="49" fill="#000">0d</text>
<text transform="translate(831.74 1962.6) scale(0.9483 1.0000)" font-family='"Liberation Serif", serif' font-weight="bold" font-size="49" fill="#000">7d</text>
<text transform="translate(926.31 1962.6) scale(0.9542 1.0000)" font-family='"Liberation Serif", serif' font-weight="bold" font-size="49" fill="#000">14d</text>
<text transform="translate(1032.08 1962.6) scale(0.9560 1.0000)" font-family='"Liberation Serif", serif' font-weight="bold" font-size="49" fill="#000">21d</text>
<text transform="translate(1138.88 1962.6) scale(0.9560 1.0000)" font-family='"Liberation Serif", serif' font-weight="bold" font-size="49" fill="#000">28d</text>
<text transform="translate(1222.95 1985.8) scale(1.0235 1.0000)" font-family='"Liberation Serif", serif' font-weight="bold" font-size="53.2" fill="#000">(Times)</text>
<text transform="translate(187.76 2019.6) scale(1.0278 1.0000)" font-family='"Liberation Serif", serif' font-weight="bold" font-size="48.3" fill="#000">Low nutrient sediment</text>
<text transform="translate(724.46 2021.6) scale(0.9924 1.0000)" font-family='"Liberation Serif", serif' font-weight="bold" font-size="49.8" fill="#000">High nutrient sediment</text>
<text transform="translate(35.71 1999.3) scale(0.9835 1.0000)" font-family='"DejaVu Sans", sans-serif' font-weight="normal" font-size="22.4" fill="#2b1a7d">workpower.us</text>
</svg></body></html>
